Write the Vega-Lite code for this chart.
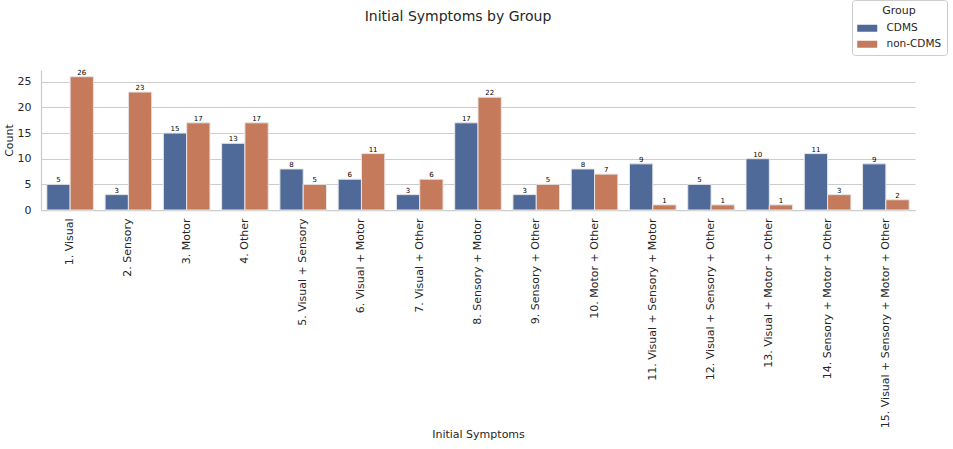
{
  "$schema": "https://vega.github.io/schema/vega-lite/v6.json",
  "width": 874,
  "height": 140,
  "autosize": {"type": "none"},
  "padding": {"left": 41, "top": 70, "right": 38, "bottom": 239},
  "background": "white",
  "config": {
    "font": "DejaVu Sans",
    "view": {"stroke": null},
    "axis": {
      "labelFont": "DejaVu Sans",
      "titleFont": "DejaVu Sans",
      "labelColor": "#262626",
      "titleColor": "#262626",
      "titleFontWeight": "normal",
      "labelFontSize": 11,
      "titleFontSize": 11,
      "domainColor": "#cccccc",
      "domainWidth": 1.25,
      "gridColor": "#cccccc",
      "gridWidth": 1,
      "ticks": false,
      "labelLimit": 0
    },
    "legend": {
      "orient": "none",
      "legendX": 811,
      "legendY": -70,
      "strokeColor": "#cccccc",
      "fillColor": "white",
      "cornerRadius": 3,
      "padding": 5,
      "titleFont": "DejaVu Sans",
      "labelFont": "DejaVu Sans",
      "titleFontWeight": "normal",
      "titleFontSize": 11,
      "titleColor": "#262626",
      "titleAnchor": "middle",
      "titlePadding": 7,
      "labelFontSize": 10.5,
      "labelColor": "#262626",
      "labelOffset": 14,
      "rowPadding": 5,
      "symbolType": "M-2,-0.7L2,-0.7L2,0.7L-2,0.7Z",
      "symbolSize": 100,
      "symbolOffset": 5,
      "symbolStrokeWidth": 0,
      "symbolOpacity": 1
    }
  },
  "title": {
    "text": "Initial Symptoms by Group",
    "font": "DejaVu Sans",
    "fontSize": 14,
    "fontWeight": "normal",
    "color": "#262626",
    "anchor": "middle",
    "frame": "group",
    "dx": -20,
    "offset": -24
  },
  "data": {
    "values": [
      {"symptom": "1. Visual", "group": "CDMS", "count": 5},
      {"symptom": "1. Visual", "group": "non-CDMS", "count": 26},
      {"symptom": "2. Sensory", "group": "CDMS", "count": 3},
      {"symptom": "2. Sensory", "group": "non-CDMS", "count": 23},
      {"symptom": "3. Motor", "group": "CDMS", "count": 15},
      {"symptom": "3. Motor", "group": "non-CDMS", "count": 17},
      {"symptom": "4. Other", "group": "CDMS", "count": 13},
      {"symptom": "4. Other", "group": "non-CDMS", "count": 17},
      {"symptom": "5. Visual + Sensory", "group": "CDMS", "count": 8},
      {"symptom": "5. Visual + Sensory", "group": "non-CDMS", "count": 5},
      {"symptom": "6. Visual + Motor", "group": "CDMS", "count": 6},
      {"symptom": "6. Visual + Motor", "group": "non-CDMS", "count": 11},
      {"symptom": "7. Visual + Other", "group": "CDMS", "count": 3},
      {"symptom": "7. Visual + Other", "group": "non-CDMS", "count": 6},
      {"symptom": "8. Sensory + Motor", "group": "CDMS", "count": 17},
      {"symptom": "8. Sensory + Motor", "group": "non-CDMS", "count": 22},
      {"symptom": "9. Sensory + Other", "group": "CDMS", "count": 3},
      {"symptom": "9. Sensory + Other", "group": "non-CDMS", "count": 5},
      {"symptom": "10. Motor + Other", "group": "CDMS", "count": 8},
      {"symptom": "10. Motor + Other", "group": "non-CDMS", "count": 7},
      {"symptom": "11. Visual + Sensory + Motor", "group": "CDMS", "count": 9},
      {"symptom": "11. Visual + Sensory + Motor", "group": "non-CDMS", "count": 1},
      {"symptom": "12. Visual + Sensory + Other", "group": "CDMS", "count": 5},
      {"symptom": "12. Visual + Sensory + Other", "group": "non-CDMS", "count": 1},
      {"symptom": "13. Visual + Motor + Other", "group": "CDMS", "count": 10},
      {"symptom": "13. Visual + Motor + Other", "group": "non-CDMS", "count": 1},
      {"symptom": "14. Sensory + Motor + Other", "group": "CDMS", "count": 11},
      {"symptom": "14. Sensory + Motor + Other", "group": "non-CDMS", "count": 3},
      {"symptom": "15. Visual + Sensory + Motor + Other", "group": "CDMS", "count": 9},
      {"symptom": "15. Visual + Sensory + Motor + Other", "group": "non-CDMS", "count": 2}
    ]
  },
  "encoding": {
    "x": {
      "field": "symptom",
      "type": "nominal",
      "sort": null,
      "scale": {"paddingInner": 0.2, "paddingOuter": 0.1},
      "axis": {
        "title": "Initial Symptoms",
        "labelAngle": -90,
        "labelPadding": 8,
        "titleY": 224,
        "titleBaseline": "middle",
        "grid": false
      }
    },
    "xOffset": {
      "field": "group",
      "type": "nominal",
      "sort": ["CDMS", "non-CDMS"],
      "scale": {"paddingInner": 0, "paddingOuter": 0}
    },
    "y": {
      "field": "count",
      "type": "quantitative",
      "scale": {"domain": [0, 27.3], "nice": false, "zero": true},
      "axis": {
        "title": "Count",
        "values": [0, 5, 10, 15, 20, 25],
        "labelPadding": 10,
        "titlePadding": 3,
        "grid": true
      }
    }
  },
  "layer": [
    {
      "mark": {"type": "bar", "stroke": "#e6e6e6", "strokeWidth": 1},
      "encoding": {
        "color": {
          "field": "group",
          "type": "nominal",
          "title": "Group",
          "sort": ["CDMS", "non-CDMS"],
          "scale": {"domain": ["CDMS", "non-CDMS"], "range": ["#4f6a99", "#c57b5b"]}
        }
      }
    },
    {
      "mark": {"type": "text", "baseline": "bottom", "dy": -1, "fontSize": 7, "color": "black", "font": "DejaVu Sans"},
      "encoding": {"text": {"field": "count", "type": "quantitative"}}
    }
  ]
}
